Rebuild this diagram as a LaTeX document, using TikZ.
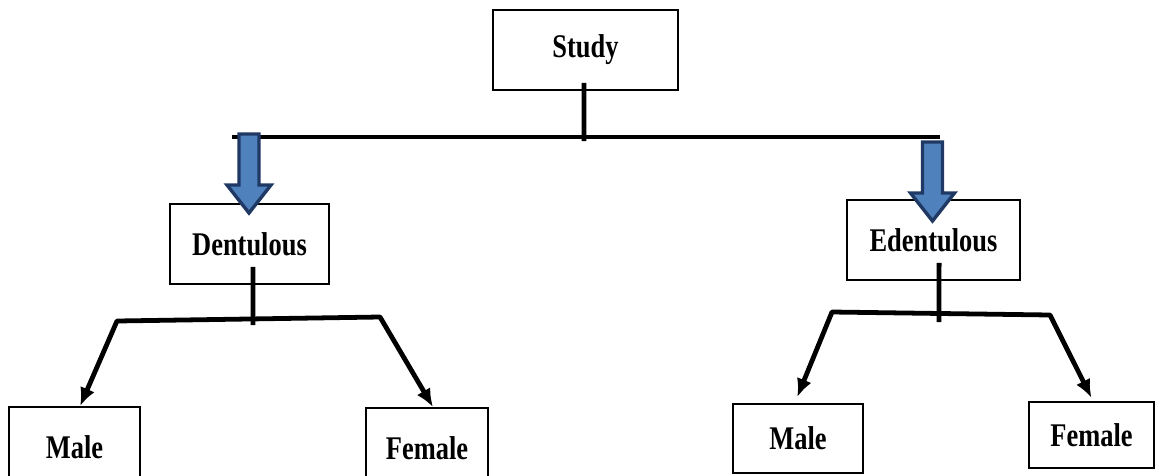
\documentclass[tikz,border=0pt]{standalone}
\usepackage{fontspec}
\setmainfont{Liberation Serif}[FakeStretch=0.8]
\usetikzlibrary{arrows.meta}
\definecolor{arrowblue}{RGB}{79,129,189}
\definecolor{arrowedge}{RGB}{31,56,100}
\tikzset{
  block arrow/.pic={
    \draw [pic actions, line join=miter]
    (-10,0) -- (10,0) -- (10,51) -- (22,51) -- (0,79) -- (-22,51) -- (-10,51) -- cycle;
  },
}

\begin{document}
\begin{tikzpicture}[x=0.025cm, y=-0.025cm, >={Latex[length=13pt,width=11pt]},
   box/.style={draw, line width=1.3pt, inner sep=0pt,
     font=\bfseries\fontsize{23.5}{26}\selectfont},
   conn/.style={line width=3.4pt, line join=round}
   ]
   \clip (0,0) rectangle (1156,475);

   \path (585.5,50) node[box, minimum width=4.625cm, minimum height=2cm] (st) {Study};
   \path (249.5,244) node[box, minimum width=3.975cm, minimum height=2cm] (den) {Dentulous}
   (933.5,240) node[box, minimum width=4.325cm, minimum height=2cm] (eden) {Edentulous};
   \path (74.5,447) node[box, minimum width=3.275cm, minimum height=2cm] (ml) {Male}
   (427,448) node[box, minimum width=3.05cm, minimum height=2cm] (fl) {Female};
   \path (798,438.5) node[box, minimum width=3.25cm, minimum height=1.725cm] (mr) {Male}
   (1091.5,435) node[box, minimum width=3.125cm, minimum height=1.65cm] (fr) {Female};

   % top bar
   \coordinate (sj) at (584,141);
   \draw[conn] ([xshift=-0.04cm,yshift=0.2cm]st.south) -- (sj);
   \draw[conn] (232,137) -- (940,137);
   \pic[fill=arrowblue, draw=arrowedge, line width=2.4pt] at (249,134) {block arrow};
   \pic[fill=arrowblue, draw=arrowedge, line width=2.4pt] at (932.5,142) {block arrow};

   % dentulous branch
   \coordinate (dj) at (253,325);
   \coordinate (dl) at (117,321);
   \coordinate (dr) at (380,317);
   \draw[conn] ([xshift=0.09cm,yshift=0.45cm]den.south) -- (dj);
   \draw[conn,<->] ([xshift=0.14cm]ml.north) -- (dl) -- (dr) -- ([xshift=0.15cm]fl.north);

   % edentulous branch
   \coordinate (ej) at (939,322);
   \coordinate (el) at (832,312);
   \coordinate (er) at (1050,315);
   \draw[conn] ([xshift=0.14cm,yshift=0.45cm]eden.south) -- (ej);
   \draw[conn,<->] ([xshift=-0.02cm,yshift=0.15cm]mr.north) -- (el) -- (er) -- ([yshift=0.08cm]fr.north);

\end{tikzpicture}
\end{document}
